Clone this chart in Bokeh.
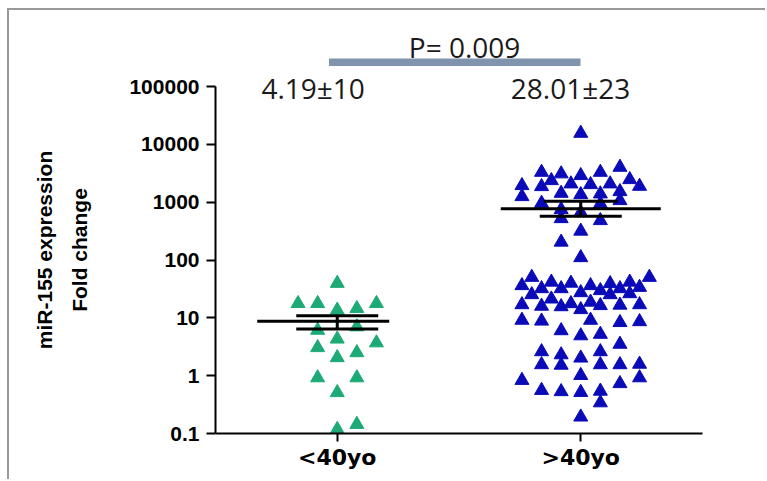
from bokeh.plotting import figure
from bokeh.layouts import column
from bokeh.models import Range1d, FixedTicker, Label
from bokeh.embed import file_html
from bokeh.resources import INLINE

# ---------------- data ----------------
groups = ["<40yo", ">40yo"]
group_centers = [0.5, 1.5]

young_values = [39.5, 17.7, 17.7, 17.7, 13.6, 14.5, 6.1, 7.0, 4.3, 3.06, 3.7,
                2.05, 2.5, 0.92, 0.92, 0.51, 0.118, 0.144]
young_slots = [0, -4, -2, 4, 0, 2, -2, 2, 0, -2, 4, 0, 2, -2, 2, 0, 0, 2]

old_values = [15560, 4018, 3290, 3090, 2886, 3290, 2364, 2460, 1936, 1862, 2073,
              2015, 2073, 1884, 1250, 1426, 1352, 1392, 1525, 1066, 957, 935,
              745, 661, 520, 481, 316, 204, 110,
              50.2, 50.2, 36.1, 32.0, 41.5, 32.0, 39.8, 27.3, 36.1, 29.6, 39.1,
              32.0, 41.5, 33.7, 25.2, 25.2, 26.2, 16.9, 15.9, 21.2, 15.6, 17.6,
              13.9, 18.7, 16.3, 16.6, 16.9, 9.1, 8.8, 9.1, 8.3, 8.6, 6.0, 4.9,
              5.2, 3.5, 2.6, 2.3, 2.02, 2.6, 1.55, 1.52, 1.55, 1.55, 1.58, 1.01,
              0.92, 0.83, 0.73, 0.557, 0.53, 0.514, 0.54, 0.34, 0.193]
old_slots = [0, 4, -4, -2, 0, 2, -3, 5, -6, -4, -1, 1, 3, 6, -6, -2, 0, 2, 4, 4,
             -4, 2, -2, 0, -2, 2, 0, -2, 0,
             -5, 7, -6, -4, -3, -2, -1, 0, 1, 2, 3, 4, 5, 6, -5, 3, 5, -6, -4,
             -3, -2, -1, 0, 1, 2, 4, 6, -6, -4, 1, 4, 6, -2, 0, 2, 4, -4, -2,
             0, 2, -4, -2, 2, 4, 6, 0, 6, -6, 4, -4, -2, 0, 2, 2, 0]

means = [8.7, 766]
sem_upper = [10.9, 1037]
sem_lower = [6.4, 570]

group_annotations = ["4.19\u00b110", "28.01\u00b123"]
p_value_text = "P= 0.009"

y_ticks = [0.1, 1, 10, 100, 1000, 10000, 100000]
y_tick_labels = ["0.1", "1", "10", "100", "1000", "10000", "100000"]
y_title = "miR-155 expression\nFold change"

# ---------------- layout / style ----------------
W = 756
TOP_H = 56          # strip above the plot (p-value bar)
H = 469 - TOP_H
ML, MR, MB = 206, 63, 46
frame_w = W - ML - MR
frame_h = H - MB
top_gap = 20        # px between frame top and the 100000 level
decade_px = (frame_h - top_gap) / 6.0
y_top = 10 ** (5 + top_gap / decade_px)
x_px = frame_w / 2.0
slot_step = 9.8 / x_px

green = "#1daa76"
blue = "#0a0ab8"
xr = Range1d(0, 2)

# ---------------- top strip: p-value ----------------
top = figure(width=W, height=TOP_H, x_range=xr, y_range=Range1d(0, TOP_H),
             output_backend="svg", toolbar_location=None,
             min_border_left=ML, min_border_right=MR, min_border_top=0, min_border_bottom=0)
top.axis.visible = False
top.grid.visible = False
top.outline_line_color = None
top.segment(0.466, TOP_H - 52, 1.499, TOP_H - 52, line_color="#8094ad", line_width=8)
top.add_layout(Label(x=1.023, y=TOP_H - 36, text=p_value_text, text_align="center",
                     text_baseline="middle", text_font="Open Sans", text_font_size="28px",
                     text_color="#1a1a1a"))

# ---------------- main plot ----------------
p = figure(width=W, height=H, y_axis_type="log",
           x_range=xr, y_range=Range1d(0.1, y_top),
           output_backend="svg", toolbar_location=None,
           min_border_left=ML, min_border_right=MR, min_border_top=0,
           min_border_bottom=MB)
p.outline_line_color = None
p.xgrid.visible = False
p.ygrid.visible = False

yx = [group_centers[0] + s * slot_step for s in young_slots]
ox = [group_centers[1] + s * slot_step for s in old_slots]
p.scatter(yx, young_values, marker="triangle", size=14, fill_color=green, line_color=green)
p.scatter(ox, old_values, marker="triangle", size=14, fill_color=blue, line_color=blue)

mean_half = [(80, 52), (80, 80)]
cap_up_half = [41, 37]
cap_lo_half = [41, 41]
for i, c in enumerate(group_centers):
    l, r = mean_half[i]
    p.segment(c - l / x_px, means[i], c + r / x_px, means[i], line_color="black", line_width=3)
    p.segment(c, sem_lower[i], c, sem_upper[i], line_color="black", line_width=3)
    p.segment(c - cap_up_half[i] / x_px, sem_upper[i], c + cap_up_half[i] / x_px, sem_upper[i],
              line_color="black", line_width=3)
    p.segment(c - cap_lo_half[i] / x_px, sem_lower[i], c + cap_lo_half[i] / x_px, sem_lower[i],
              line_color="black", line_width=3)

ann_x = [0.401, 1.458]
for t, x in zip(group_annotations, ann_x):
    p.add_layout(Label(x=x, y=10 ** 4.97, text=t, text_align="center", text_baseline="middle",
                       text_font="Open Sans", text_font_size="28px", text_color="#1a1a1a"))

ya = p.yaxis[0]
ya.bounds = (0.1, 100000)
ya.ticker = FixedTicker(ticks=y_ticks, minor_ticks=[])
ya.major_label_overrides = dict(zip(y_ticks, y_tick_labels))
ya.axis_line_width = 2
ya.axis_line_color = "black"
ya.major_tick_line_width = 2
ya.major_tick_line_color = "black"
ya.major_tick_out = 9
ya.major_tick_in = 0
ya.minor_tick_out = 0
ya.minor_tick_in = 0
ya.major_label_text_font = "Liberation Sans"
ya.major_label_text_font_style = "bold"
ya.major_label_text_font_size = "21px"
ya.major_label_text_color = "black"
ya.major_label_standoff = 7
ya.axis_label = y_title
ya.axis_label_text_font = "Liberation Sans"
ya.axis_label_text_font_style = "bold"
ya.axis_label_text_font_size = "21px"
ya.axis_label_text_line_height = 1.55
ya.axis_label_text_color = "black"
ya.axis_label_standoff = 35

xa = p.xaxis[0]
xa.ticker = FixedTicker(ticks=group_centers, minor_ticks=[])
xa.major_label_overrides = dict(zip(group_centers, groups))
xa.axis_line_width = 2
xa.axis_line_color = "black"
xa.major_tick_line_width = 2
xa.major_tick_line_color = "black"
xa.major_tick_out = 8
xa.major_tick_in = 0
xa.minor_tick_out = 0
xa.minor_tick_in = 0
xa.major_label_text_font = "DejaVu Sans"
xa.major_label_text_font_style = "bold"
xa.major_label_text_font_size = "22px"
xa.major_label_text_color = "black"
xa.major_label_standoff = 3

layout = column(top, p, spacing=0)
layout.styles = {"margin-left": "7px", "margin-top": "8px",
                 "border-top": "2px solid #999999", "border-left": "2px solid #999999"}

open("out.html", "w").write(file_html(layout, INLINE))
